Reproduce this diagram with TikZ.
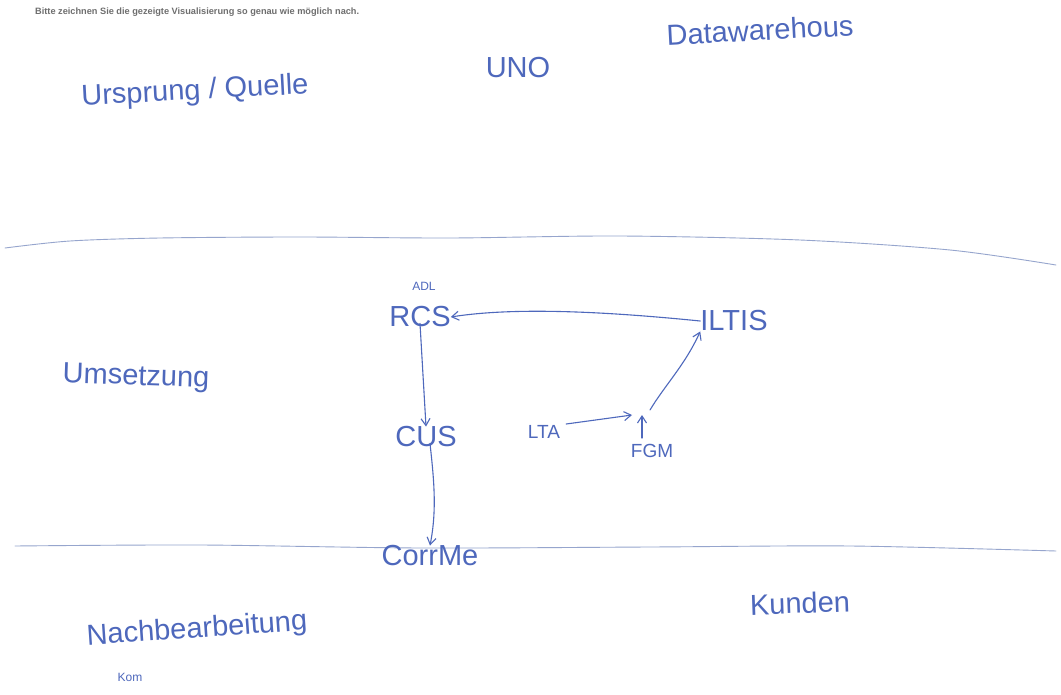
\documentclass[tikz,border=0pt]{standalone}
\usepackage{fontspec}
\setmainfont{Liberation Sans}
\usetikzlibrary{arrows.meta}
\definecolor{ink}{RGB}{78,104,188}
\definecolor{rule}{RGB}{150,165,205}
\definecolor{note}{RGB}{110,110,110}
\begin{document}
\begin{tikzpicture}[x=1pt,y=-1pt,
  lbl/.style={text=ink,inner sep=0pt,font=\fontsize{29}{32}\selectfont},
  sml/.style={text=ink,inner sep=0pt,font=\fontsize{19}{22}\selectfont},
  tiny/.style={text=ink,inner sep=0pt,font=\fontsize{12}{14}\selectfont},
  pen/.style={draw=ink,line width=1.1pt,line cap=round},
  arr/.style={pen,-{Straight Barb[length=7pt,width=9pt]}},
  sep/.style={draw=rule,line width=0.9pt,line cap=round}]
\useasboundingbox[fill=white] (0,0) rectangle (1061,695);

% instruction line at the top
\node[anchor=west,inner sep=0pt,text=note,font=\fontsize{9.2}{11}\selectfont\bfseries] (hint) at (35,12)
  {Bitte zeichnen Sie die gezeigte Visualisierung so genau wie möglich nach.};

% column headings
\node[lbl,rotate=3] (src) at (195,92) {Ursprung / Quelle};
\node[lbl] (uno) at (518,68) {UNO};
\node[lbl,rotate=3] (dwh) at (760,30) {Datawarehous};

% band separators
\draw[sep] plot[smooth] coordinates {(5,248) (70,241) (160,238) (300,237) (450,238) (620,236) (800,240) (950,250) (1056,265)};
\draw[sep] plot[smooth] coordinates {(15,546) (200,545) (420,548) (650,547) (850,546) (1056,551)};

% middle band
\node[lbl,rotate=-2] (ums) at (136,378) {Umsetzung};
\node[tiny] (adl) at (424,286) {ADL};
\node[lbl] (rcs) at (420,317) {RCS};
\node[lbl] (iltis) at (734,321) {ILTIS};
\node[lbl] (cus) at (426,437) {CUS};
\node[sml] (lta) at (544,432) {LTA};
\node[sml] (fgm) at (652,451) {FGM};
\coordinate (ltaEnd) at (632,415);
\coordinate (fgmTop) at (642,415);
\coordinate (fgmOut) at (650,410);

% bottom band
\node[lbl] (corr) at (430,556) {CorrMe};
\node[lbl,rotate=2] (kunden) at (800,603) {Kunden};
\node[lbl,rotate=4] (nach) at (197,630) {Nachbearbeitung};
\node[tiny] (kom) at (130,677) {Kom};

% flows
\draw[arr] (iltis.west) .. controls (620,313) and (520,306) .. (rcs.east);
\draw[arr] (rcs.south) ++(0,-4) -- (cus.north);
\draw[arr] (cus.south) ++(4,-4) .. controls (434,480) and (437,510) .. (corr.north);
\draw[arr] (lta.east) ++(6,-8) -- (ltaEnd);
\draw[arr] (fgm.north) ++(-10,-6) -- (fgmTop);
\draw[arr] (fgmOut) .. controls (665,385) and (685,365) .. (iltis.south west);
\end{tikzpicture}
\end{document}
